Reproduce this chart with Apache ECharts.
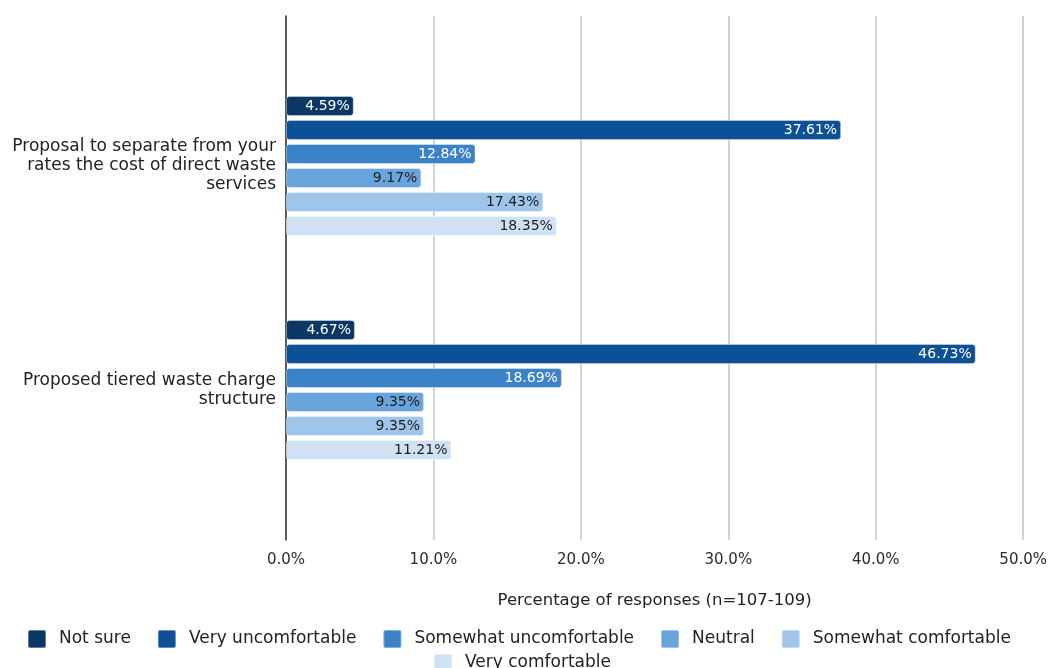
<!DOCTYPE html>
<html>
<head>
<meta charset="utf-8">
<script src="https://cdn.jsdelivr.net/npm/echarts@6/dist/echarts.min.js"></script>
<style>
  html, body { margin: 0; padding: 0; background: #fff; }
  #chart { width: 1050px; height: 668px; }
</style>
</head>
<body>
<div id="chart"></div>
<script>
const categories = [
  'Proposal to separate from your\nrates the cost of direct waste\nservices',
  'Proposed tiered waste charge\nstructure'
];
const seriesNames = ['Not sure', 'Very uncomfortable', 'Somewhat uncomfortable', 'Neutral', 'Somewhat comfortable', 'Very comfortable'];
const notSure = [4.59, 4.67];
const veryUncomfortable = [37.61, 46.73];
const somewhatUncomfortable = [12.84, 18.69];
const neutral = [9.17, 9.35];
const somewhatComfortable = [17.43, 9.35];
const veryComfortable = [18.35, 11.21];
const xTicks = { min: 0, max: 50, interval: 10 };
const axisTitle = 'Percentage of responses (n=107-109)';

const values = [notSure, veryUncomfortable, somewhatUncomfortable, neutral, somewhatComfortable, veryComfortable];
const colors = ['#0b3765', '#0e5095', '#3c82c8', '#69a4dc', '#a0c5ea', '#cfe1f3'];
const labelColors = ['#ffffff', '#ffffff', '#ffffff', '#1f1f1f', '#1f1f1f', '#1f1f1f'];
const FONT = 'DejaVu Sans';

const legendCommon = {
  itemGap: 26, itemWidth: 18, itemHeight: 18, icon: 'path://M2,0 L16,0 Q18,0 18,2 L18,16 Q18,18 16,18 L2,18 Q0,18 0,16 L0,2 Q0,0 2,0 Z',
  textStyle: { fontFamily: FONT, fontSize: 17, color: '#222', padding: [0, 0, 0, 8] }
};

const chart = echarts.init(document.getElementById('chart'));
chart.setOption({
  animation: false,
  backgroundColor: '#ffffff',
  textStyle: { fontFamily: FONT },
  grid: [
    { left: 286, right: 26, top: 16, bottom: 128 },
    { left: 286, right: 26, top: 54, bottom: 166 }
  ],
  xAxis: [
    {
      gridIndex: 0, type: 'value', min: xTicks.min, max: xTicks.max, interval: xTicks.interval,
      axisLine: { show: false }, axisTick: { show: false },
      splitLine: { show: true, lineStyle: { color: '#d3d3d3', width: 2 } },
      axisLabel: { formatter: v => v.toFixed(1) + '%', fontFamily: FONT, fontSize: 15, color: '#2a2a2a', margin: 13 },
      name: axisTitle, nameLocation: 'middle', nameGap: 52,
      nameTextStyle: { fontFamily: FONT, fontSize: 16.5, color: '#222' }
    },
    {
      gridIndex: 1, type: 'value', min: xTicks.min, max: xTicks.max, show: false
    }
  ],
  yAxis: [
    {
      gridIndex: 0, type: 'value', min: 0, max: 1,
      axisLine: { show: true, lineStyle: { color: '#333', width: 1.5 } },
      axisTick: { show: false }, axisLabel: { show: false }, splitLine: { show: false }
    },
    {
      gridIndex: 1, type: 'category', data: categories, inverse: true,
      axisLine: { show: false }, axisTick: { show: false },
      axisLabel: { fontFamily: FONT, fontSize: 17, lineHeight: 19, color: '#222', margin: 10, align: 'right' }
    }
  ],
  legend: [
    Object.assign({ left: 22, top: 624, data: seriesNames.slice(0, 5) }, legendCommon),
    Object.assign({ left: 428, top: 648, data: seriesNames.slice(5) }, legendCommon)
  ],
  series: values.map((vals, i) => ({
    name: seriesNames[i],
    type: 'bar',
    xAxisIndex: 1, yAxisIndex: 1,
    data: vals,
    barWidth: 20,
    barGap: '20%',
    itemStyle: { color: colors[i], borderRadius: 3, borderColor: 'rgba(255,255,255,0.35)', borderWidth: 1 },
    label: {
      show: true, position: 'insideRight', distance: 4,
      formatter: p => p.value.toFixed(2) + '%',
      fontFamily: FONT, fontSize: 14, color: labelColors[i]
    }
  }))
});
</script>
</body>
</html>
